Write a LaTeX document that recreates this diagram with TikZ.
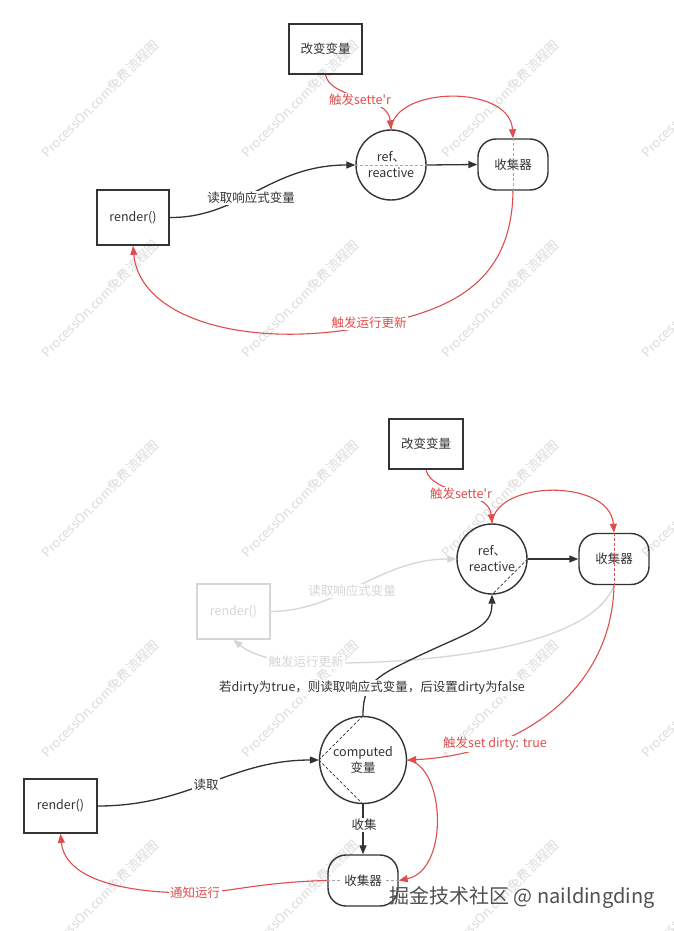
\documentclass[tikz,border=0pt]{standalone}
\usepackage{fontspec}
\newfontfamily\cjk{Noto Sans CJK SC}
\usetikzlibrary{arrows.meta}
\definecolor{dk}{HTML}{333333}
\definecolor{rd}{RGB}{222,78,78}
\definecolor{fd}{HTML}{D6D6D6}
\definecolor{wm}{HTML}{DCDCDC}
\definecolor{jj}{HTML}{505050}
\begin{document}
\begin{tikzpicture}[x=1pt,y=-1pt,
  every node/.style={font=\cjk\fontsize{12.5}{16}\selectfont, text=dk},
  boxnode/.style={draw=dk, line width=1.8pt, minimum width=73pt, minimum height=50pt, inner sep=0pt},
  circnode/.style={draw=dk, circle, line width=1.4pt, minimum size=70pt, inner sep=0pt, align=center},
  collnode/.style={draw=dk, rectangle, rounded corners=18pt, line width=1.4pt, minimum width=70pt, minimum height=51pt, inner sep=0pt},
  blk/.style={draw=dk, line width=1.3pt, -{Triangle[length=9pt,width=7pt]}},
  blkplain/.style={draw=dk, line width=1.3pt},
  redl/.style={draw=rd, line width=1.1pt, -{Triangle[length=9pt,width=7pt]}},
  fdl/.style={draw=fd, line width=1.3pt, -{Triangle[length=9pt,width=7pt]}},
  dsh/.style={draw=gray!70, line width=0.8pt, dash pattern=on 3pt off 2pt},
  dshd/.style={draw=dk, line width=0.7pt, dash pattern=on 3pt off 2pt},
  dshr/.style={draw=rd, line width=0.9pt, dash pattern=on 3pt off 2pt},
  lbl/.style={fill=white, inner sep=1.5pt},
  wmk/.style={font=\cjk\fontsize{13}{15}\selectfont, text=wm, rotate=45, inner sep=0pt}
]
\fill[white] (0,0) rectangle (673,931);
\useasboundingbox (0,0) rectangle (673,931);

% watermarks
\foreach \x in {100,300,500,700}{
  \foreach \y in {99,299,499,699,899}{
    \node[wmk] (wm-\x-\y) at (\x,\y) {ProcessOn.com免费流程图};
  }
}

% ---------- top diagram ----------
\node[boxnode] (chg1) at (325.5,49) {改变变量};
\node[boxnode, minimum width=72pt, minimum height=55pt] (rd1) at (133,217.5) {render()};
\node[circnode] (ref1) at (391,165) {ref、\\reactive};
\node[collnode] (col1) at (513,164.5) {收集器};

\draw[dsh] (ref1.west) -- (ref1.east);
\draw[dsh] (col1.north) -- (col1.south);

\draw[blk] (rd1.east) .. controls (240,218) and (270,165) .. (ref1.west);
\draw[blk] (ref1.east) -- (col1.west);
\draw[redl] (chg1.south) .. controls (331,100) and (388,95) .. (ref1.north);
\draw[redl] (ref1.north) .. controls (394,86) and (510,84) .. (col1.north);
\coordinate (m1) at (370,326);
\draw[redl] (col1.south) .. controls (512,290) and (440,312) .. (m1) .. controls (250,350) and (140,320) .. (rd1.south);

\node[lbl] (l1) at (251,198) {读取响应式变量};
\node[lbl, text=rd] (l2) at (360,100) {触发sette'r};
\node[lbl, text=rd] (l3) at (369,323) {触发运行更新};

% ---------- bottom diagram ----------
\node[boxnode, minimum width=74pt] (chg2) at (426,444) {改变变量};
\node[circnode] (ref2) at (492,559) {ref、\\reactive};
\node[collnode] (col2) at (614,559) {收集器};
\node[boxnode, draw=fd, text=fd, line width=1.4pt, minimum height=55pt] (rdf) at (233.5,611.5) {render()};
\node[circnode, minimum size=87pt] (cmp) at (363,760) {computed\\变量};
\node[boxnode, minimum height=54pt] (rd2) at (60.5,806) {render()};
\node[collnode] (col3) at (363,880.5) {收集器};

% faded old connectors
\draw[fdl] (rdf.east) .. controls (340,611) and (380,559) .. (ref2.west);
\coordinate (m2) at (306,663);
\draw[fdl] (col2.south) .. controls (590,650) and (420,665) .. (m2) .. controls (270,662) and (248,652) .. (rdf.south);
\node[lbl, text=fd] (l4) at (352,591) {读取响应式变量};
\node[lbl, text=fd] (l5) at (306,662) {触发运行更新};

% dashed inner lines
\draw[dshd] (ref2.east) -- (ref2.south);
\draw[dshd] (cmp.north) -- (cmp.west);
\draw[dshd] (cmp.west) -- (cmp.south);
\draw[dshr] (col2.north) -- (col2.south);
\draw[dsh] (col3.west) -- ++(14,0);
\draw[dsh] (col3.east) -- ++(-14,0);

% connectors
\draw[blk] (ref2.east) -- (col2.west);
\draw[redl] (chg2.south) .. controls (432,495) and (489,490) .. (ref2.north);
\draw[redl] (ref2.north) .. controls (495,480) and (610,478) .. (col2.north);
\draw[redl] (col2.south) .. controls (612,690) and (520,755) .. (cmp.east);
\draw[redl] (cmp.east) .. controls (445,765) and (450,870) .. (col3.east);
\coordinate (m3) at (195,893);
\draw[redl] (col3.west) .. controls (260,882) and (225,893) .. (m3) .. controls (100,893) and (64,870) .. (rd2.south);
\draw[blk] (rd2.east) .. controls (190,806) and (230,760) .. (cmp.west);
\draw[blk] (cmp.south) -- (col3.north);
\coordinate (m4) at (400,665);
\draw[blk] (cmp.north) .. controls (363,690) and (370,680) .. (m4) .. controls (470,630) and (492,630) .. (ref2.south);

% labels
\node[lbl, text=rd] (l6) at (461,494) {触发sette'r};
\node[lbl, text=rd] (l7) at (495,744) {触发set dirty: true};
\node[lbl] (l8) at (372,688) {若dirty为true，则读取响应式变量，后设置dirty为false};
\node[lbl] (l9) at (206,785) {读取};
\node[lbl] (l10) at (364,825) {收集};
\node[lbl, text=rd] (l11) at (195,893) {通知运行};

\node[font=\cjk\fontsize{20}{24}\selectfont, text=jj, inner sep=0pt] (jj) at (522,897) {掘金技术社区 @ naildingding};
\end{tikzpicture}
\end{document}
